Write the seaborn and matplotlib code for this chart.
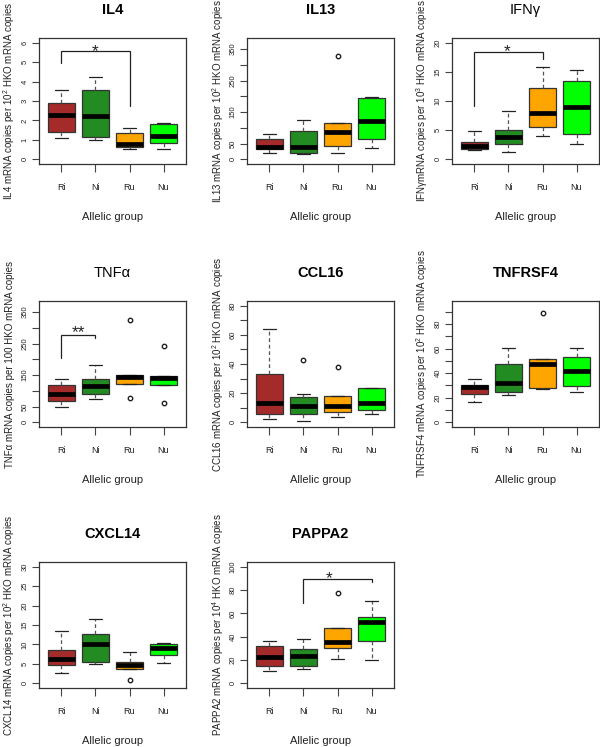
"""
Cytokine / chemokine expression by allelic group - 3x3 grid of R-style boxplots
"""

import numpy as np
import pandas as pd
import matplotlib
matplotlib.use('Agg')
import matplotlib.pyplot as plt
import seaborn as sns

GROUPS = ['Ri', 'Ni', 'Ru', 'Nu']
GROUP_COLORS = ['#A52A2A', '#228B22', '#FFA500', '#00FF00']

GENES = ['IL4', 'IL13', 'IFNγ', 'TNFα', 'CCL16', 'TNFRSF4', 'CXCL14', 'PAPPA2']
TITLE_BOLD = [True, True, False, False, True, True, True, True]
Y_LABELS = [
    'IL4 mRNA copies per 10$^{\\mathregular{2}}$ HKO mRNA copies',
    'IL13 mRNA copies per 10$^{\\mathregular{2}}$ HKO mRNA copies',
    'IFNγmRNA copies per 10$^{\\mathregular{3}}$ HKO mRNA copies',
    'TNFα mRNA copies per 100 HKO mRNA copies',
    'CCL16 mRNA copies per 10$^{\\mathregular{2}}$ HKO mRNA copies',
    'TNFRSF4 mRNA copies per 10$^{\\mathregular{2}}$ HKO mRNA copies',
    'CXCL14 mRNA copies per 10$^{\\mathregular{2}}$ HKO mRNA copies',
    'PAPPA2 mRNA copies per 10$^{\\mathregular{4}}$ HKO mRNA copies',
]

# values read off the boxes (whisker ends, quartiles, median, outliers)
# one list per group, order Ri, Ni, Ru, Nu
IL4 = [[1.11, 1.41, 2.28, 2.91, 3.55],
       [0.99, 1.17, 2.25, 3.56, 4.25],
       [0.51, 0.65, 0.79, 1.34, 1.63],
       [0.51, 0.82, 1.20, 1.80, 1.89]]
IL13 = [[19.1, 31.9, 39.4, 64.9, 79.8],
        [16.0, 21.3, 38.3, 90.4, 123.4],
        [21.3, 43.6, 43.6, 87.2, 87.2, 113.8, 113.8, 113.8, 327.7],
        [37.2, 64.9, 122.3, 195.7, 197.9]]
IFNG = [[1.56, 1.78, 2.30, 3.05, 4.85],
        [1.21, 2.60, 3.75, 5.00, 8.24],
        [3.98, 5.60, 8.00, 12.30, 15.90],
        [2.60, 4.38, 8.93, 13.40, 15.30]]
TNFA = [[50.0, 69.0, 90.4, 118.0, 138.0],
        [73.4, 88.3, 116.0, 136.0, 183.0],
        [77.0, 122.0, 122.0, 143.6, 143.6, 151.0, 151.0, 151.0, 325.5],
        [61.7, 118.0, 118.0, 140.4, 140.4, 146.8, 146.8, 146.8, 243.6]]
CCL16 = [[2.5, 6.0, 13.3, 32.9, 63.9],
         [0.9, 6.0, 6.0, 11.5, 11.5, 17.7, 17.7, 19.3, 42.5],
         [3.7, 7.1, 7.1, 11.3, 11.3, 18.4, 18.4, 18.4, 38.2],
         [5.7, 8.5, 13.6, 23.4, 23.4]]
TNFRSF4 = [[16.5, 23.1, 29.0, 30.6, 35.5],
           [22.5, 24.9, 32.3, 47.5, 60.5],
           [27.1, 27.7, 27.7, 47.2, 47.2, 51.3, 51.3, 51.3, 89.2],
           [24.4, 29.3, 42.0, 53.4, 60.5]]
CXCL14 = [[2.74, 4.63, 6.26, 8.66, 13.4],
          [4.97, 5.57, 10.2, 12.7, 16.6],
          [0.80, 3.70, 3.70, 4.80, 4.80, 5.57, 5.57, 7.97, 7.97],
          [5.31, 7.20, 9.09, 10.0, 10.46]]
PAPPA2 = [[10.6, 15.1, 22.3, 32.3, 36.3],
          [12.0, 15.1, 23.7, 29.4, 37.7],
          [20.6, 30.0, 30.0, 35.1, 35.1, 47.1, 47.1, 47.1, 77.4],
          [19.7, 36.3, 52.9, 56.6, 70.9]]
GENE_VALUES = [IL4, IL13, IFNG, TNFA, CCL16, TNFRSF4, CXCL14, PAPPA2]

# y axes
Y_MAX = [6, 370, 20, 370, 80, 95, 30, 100]
Y_STEP = [1, 50, 5, 50, 10, 10, 5, 20]
Y_TICK_LABELS = [
    [0, 1, 2, 3, 4, 5, 6],
    [0, 50, 150, 250, 350],
    [0, 5, 10, 15, 20],
    [0, 50, 150, 250, 350],
    [0, 20, 40, 60, 80],
    [0, 20, 40, 60, 80],
    [0, 5, 10, 15, 20, 25, 30],
    [0, 20, 40, 60, 80, 100],
]

# significance brackets
SIG_GENE = ['IL4', 'IFNγ', 'TNFα', 'PAPPA2']
SIG_FROM = ['Ri', 'Ri', 'Ri', 'Ni']
SIG_TO = ['Ru', 'Ru', 'Ni', 'Nu']
SIG_LEFT_END = [4.97, 9.2, 203, 68.6]
SIG_TOP = [5.55, 18.4, 278, 89.1]
SIG_RIGHT_END = [2.74, 17.2, 267, 86.6]
SIG_TEXT = ['*', '*', '**', '*']
SIG_TEXT_X = [1.0, 0.95, 0.5, 1.75]
SIG_TEXT_Y = [5.33, 17.7, 270, 86.0]   # text baseline

FONT = 'Liberation Sans'
TEXT_COLOR = '#222222'
LINE_COLOR = '#333333'

# axes boxes in pixels (left, top) on a 600x747 canvas
FIG_W, FIG_H = 600, 747
AX_W, AX_H = 147, 126
COL_X = [39, 247, 452]
ROW_Y = [38, 301, 562]


def draw_panel(ax, i):
    gene = GENES[i]
    values = GENE_VALUES[i]
    rows = []
    for g, vals in zip(GROUPS, values):
        for v in vals:
            rows.append({'group': g, 'value': v})
    df = pd.DataFrame(rows)

    sns.boxplot(data=df, x='group', y='value', hue='group', order=GROUPS,
                hue_order=GROUPS, palette=dict(zip(GROUPS, GROUP_COLORS)),
                legend=False, width=0.8, whis=1.5, linecolor=LINE_COLOR,
                linewidth=0.9, fliersize=3.2, saturation=1, ax=ax,
                whiskerprops={'linestyle': (0, (3, 2.2)), 'color': '#555555'},
                capprops={'color': '#222222', 'linewidth': 0.9},
                medianprops={'color': 'black', 'linewidth': 3.4,
                             'solid_capstyle': 'butt'},
                flierprops={'marker': 'o', 'markerfacecolor': 'none',
                            'markeredgecolor': '#222222',
                            'markeredgewidth': 1.0})

    ymax = Y_MAX[i]
    pad = 0.04 * ymax
    ax.set_ylim(-pad, ymax + pad)
    ax.set_xlim(-0.66, 3.66)

    ticks = np.arange(0, ymax + 1e-9, Y_STEP[i])
    ax.set_yticks(ticks)
    ax.set_yticklabels([f'{t:g}' if t in Y_TICK_LABELS[i] else '' for t in ticks])
    ax.set_xticks(range(len(GROUPS)))
    ax.set_xticklabels(GROUPS)

    ax.tick_params(axis='x', bottom=True, length=5.5, width=0.8, color='#444444',
                   pad=8, labelsize=6.5, labelcolor=TEXT_COLOR)
    ax.tick_params(axis='y', left=True, length=5, width=0.8, color='#444444',
                   pad=2.5, labelsize=5.5, labelcolor=TEXT_COLOR, labelrotation=90)
    for lbl in ax.get_yticklabels():
        lbl.set_va('center')

    for sp in ax.spines.values():
        sp.set_visible(True)
        sp.set_color(LINE_COLOR)
        sp.set_linewidth(0.9)

    ax.set_title(gene, fontsize=10.5, fontweight='bold' if TITLE_BOLD[i] else 'normal',
                 color='black', pad=17)
    ax.set_xlabel('Allelic group', fontsize=8, color=TEXT_COLOR)
    ax.xaxis.set_label_coords(0.5, -0.42)
    ax.xaxis.label.set_va('center')
    ax.set_ylabel(Y_LABELS[i], fontsize=7, color=TEXT_COLOR)
    ax.yaxis.set_label_coords(-0.2, 0.5)
    ax.yaxis.label.set_va('center')

    # significance bracket
    if gene in SIG_GENE:
        k = SIG_GENE.index(gene)
        x1 = GROUPS.index(SIG_FROM[k])
        x2 = GROUPS.index(SIG_TO[k])
        ax.plot([x1, x1, x2, x2],
                [SIG_LEFT_END[k], SIG_TOP[k], SIG_TOP[k], SIG_RIGHT_END[k]],
                color='#222222', linewidth=0.9, solid_joinstyle='miter')
        ax.text(SIG_TEXT_X[k], SIG_TEXT_Y[k], SIG_TEXT[k], ha='center', va='baseline',
                fontsize=12.5, color='#222222')


def main():
    sns.set_theme(style='white')
    plt.rcParams['font.family'] = [FONT, 'DejaVu Sans']
    plt.rcParams['mathtext.fontset'] = 'custom'
    plt.rcParams['mathtext.rm'] = FONT

    fig = plt.figure(figsize=(FIG_W / 100, FIG_H / 100), dpi=100)
    fig.patch.set_facecolor('white')

    for i in range(len(GENES)):
        r, c = divmod(i, 3)
        left = COL_X[c] / FIG_W
        bottom = 1 - (ROW_Y[r] + AX_H) / FIG_H
        ax = fig.add_axes([left, bottom, AX_W / FIG_W, AX_H / FIG_H])
        ax.set_facecolor('white')
        draw_panel(ax, i)

    fig.savefig('out.png', dpi=100, facecolor='white')


if __name__ == '__main__':
    main()
